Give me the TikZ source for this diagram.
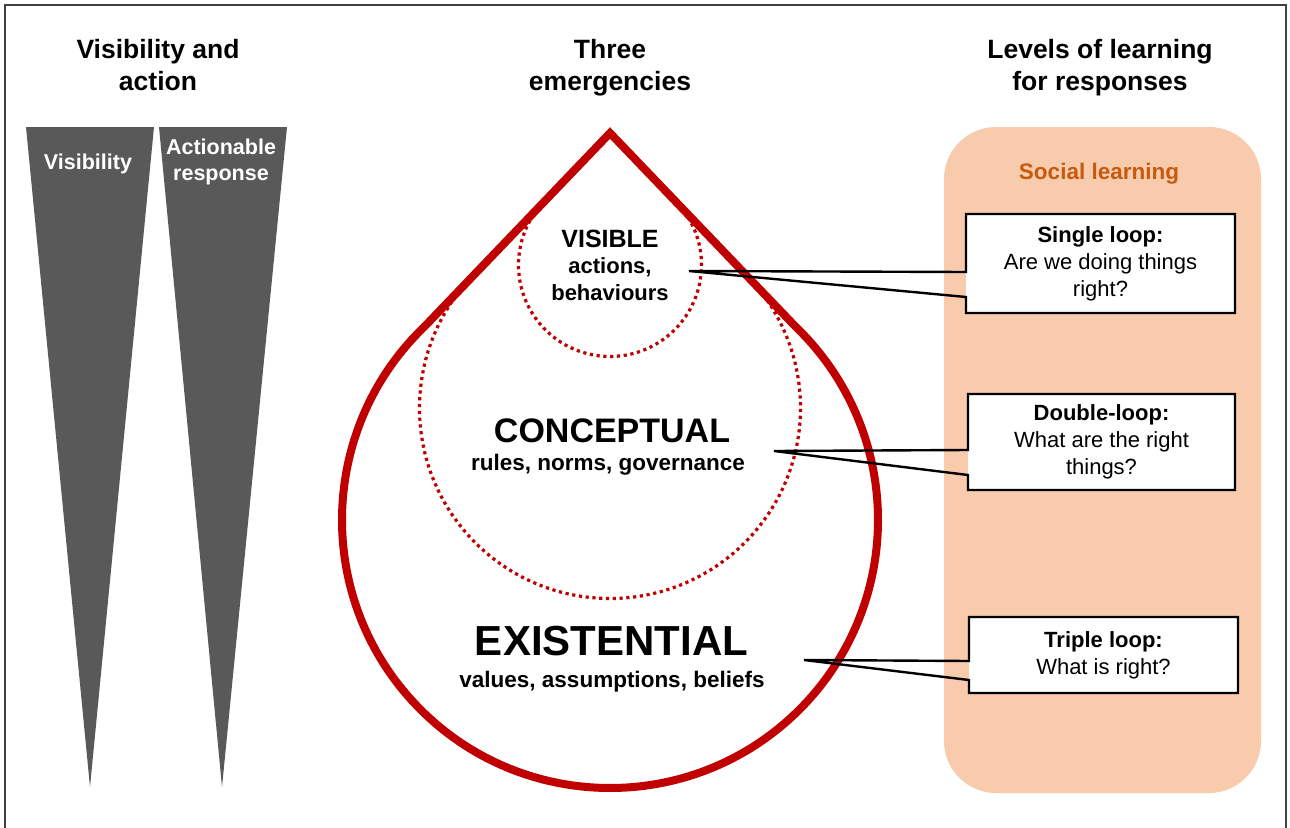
\documentclass[tikz,border=0pt]{standalone}
\usepackage{fontspec}
\setmainfont{Liberation Sans}
\usetikzlibrary{calc}
\definecolor{dropred}{HTML}{C00000}
\definecolor{wedgegray}{HTML}{595959}
\definecolor{peach}{HTML}{F8CBAD}
\definecolor{rust}{HTML}{C55A11}
\definecolor{framegray}{HTML}{404040}
\begin{document}
\begin{tikzpicture}[x=1pt,y=-1pt,
  heading/.style={font=\bfseries\fontsize{26.5}{32}\selectfont, align=center, inner sep=0pt},
  wedgelabel/.style={text=white, font=\bfseries\fontsize{21.5}{26}\selectfont, align=center, inner sep=0pt},
  wedgeshape/.style={fill=wedgegray, draw=none},
  levelring/.style={draw=dropred, dash pattern=on 3.2pt off 3.6pt, line width=3.2pt},
  droptext/.style={font=\bfseries\fontsize{22.5}{27}\selectfont, align=center, inner sep=0pt},
  qbox/.style={fill=white, inner sep=0pt, outer sep=0pt, minimum width=269pt,
    font=\fontsize{22}{27}\selectfont, align=center},
  calloutline/.style={draw=black, line width=2.4pt, line join=miter}
]
\useasboundingbox (0,0) rectangle (1290,827);

% outer frame (open at the bottom)
\draw[framegray, line width=2pt] (5,835) -- (5,5) -- (1286,5) -- (1286,835);

% column headings
\node[heading] (h1) at (158,65) {Visibility and\\action};
\node[heading] (h2) at (610,67.5) {Three\\emergencies};
\node[heading] (h3) at (1100,67.5) {Levels of learning\\for responses};

% tapering wedges
\path[wedgeshape] (26,127) -- (154,127) -- (90,787) -- cycle;
\path[wedgeshape] (159,127) -- (287,127) -- (222,787) -- cycle;
\node[wedgelabel, anchor=base] (wvis) at (88,169) {Visibility};
\node[wedgelabel] (wact) at (221,162) {Actionable\\response};

% social learning panel
\fill[peach, rounded corners=52pt] (944,127) rectangle (1261,793);
\node[anchor=base, font=\bfseries\fontsize{22.5}{26}\selectfont, text=rust] (social) at (1099,179) {Social learning};

% nested levels inside the drop
\coordinate (cs) at (610,265);
\coordinate (cb) at (610,408);
\coordinate (cd) at (610,520);
\coordinate (apex) at (610,133);
\draw[levelring] ($(cs)+(-133.8:91.5)$) arc[start angle=-133.8, end angle=-406.2, radius=91.5];
\draw[levelring] ($(cb)+(-133.8:190.5)$) arc[start angle=-133.8, end angle=-406.2, radius=190.5];

% the drop outline
\draw[dropred, line width=8pt, line join=miter]
  (apex) -- ($(cd)+(-133.8:268)$) arc[start angle=-133.8, end angle=-406.2, radius=268] -- cycle;

% texts of the three levels
\node[anchor=base, font=\bfseries\fontsize{25}{28}\selectfont, inner sep=0pt] (visible) at (610,247) {VISIBLE};
\node[droptext, font=\bfseries\fontsize{22}{27}\selectfont] (visdesc) at (610,279) {actions,\\behaviours};
\node[anchor=base, font=\bfseries\fontsize{34}{40}\selectfont, inner sep=0pt] (concept) at (612,442) {CONCEPTUAL};
\node[anchor=base, droptext] (concdesc) at (608,470) {rules, norms, governance};
\node[anchor=base, font=\bfseries\fontsize{42}{48}\selectfont, inner sep=0pt] (exist) at (611.5,655) {EXISTENTIAL};
\node[anchor=base, droptext] (existdesc) at (612,687) {values, assumptions, beliefs};

% callout tips
\coordinate (t1) at (689,271);
\coordinate (t2) at (774,451);
\coordinate (t3) at (804,660);

% question boxes
\node[qbox, minimum height=99pt] (q1) at (1100.5,263.5) {\textbf{Single loop:}\\Are we doing things\\right?};
\node[qbox, minimum width=267pt, minimum height=96pt] (q2) at (1101.5,442) {\textbf{Double-loop:}\\What are the right\\things?};
\node[qbox, minimum height=76pt] (q3) at (1103.5,655) {\textbf{Triple loop:}\\What is right?};

% callout outlines with pointers
\draw[calloutline] (q1.north west) -- (q1.north east) -- (q1.south east) -- (q1.south west)
  -- ([yshift=-33.5pt]q1.west) -- (t1) -- ([yshift=-8.5pt]q1.west) -- cycle;
\draw[calloutline] (q2.north west) -- (q2.north east) -- (q2.south east) -- (q2.south west)
  -- ([yshift=-33pt]q2.west) -- (t2) -- ([yshift=-8pt]q2.west) -- cycle;
\draw[calloutline] (q3.north west) -- (q3.north east) -- (q3.south east) -- (q3.south west)
  -- ([yshift=-25pt]q3.west) -- (t3) -- ([yshift=-6pt]q3.west) -- cycle;
\end{tikzpicture}
\end{document}
